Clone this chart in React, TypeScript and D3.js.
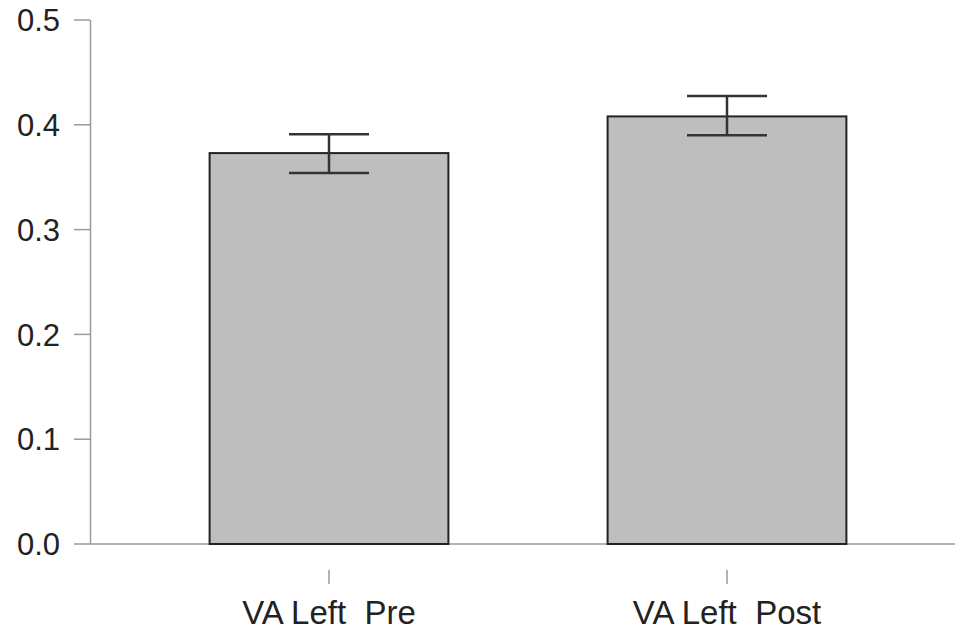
import React, { useEffect, useRef } from "react";
import * as d3 from "d3";

const categories = ["VA Left  Pre", "VA Left  Post"];
const means = [0.373, 0.408];
const lowers = [0.354, 0.39];
const uppers = [0.391, 0.4275];
const yTicks = [0, 0.1, 0.2, 0.3, 0.4, 0.5];

const App: React.FC = () => {
  const svgRef = useRef<SVGSVGElement | null>(null);

  useEffect(() => {
    if (!svgRef.current) return;
    const width = 955;
    const height = 632;
    const svg = d3.select(svgRef.current);
    svg.selectAll("*").remove();

    const x = d3
      .scaleBand<string>()
      .domain(categories)
      .range([130, 926])
      .paddingInner(0.4)
      .paddingOuter(0.2);
    const y = d3.scaleLinear().domain([0, 0.5]).range([544, 20]);

    const font = "'Liberation Sans', Arial, sans-serif";
    const axisColor = "#9a9a9a";
    const textColor = "#222";

    // y axis
    svg
      .append("line")
      .attr("x1", 90.5)
      .attr("x2", 90.5)
      .attr("y1", y(0.5))
      .attr("y2", y(0))
      .attr("stroke", axisColor)
      .attr("stroke-width", 1.5);

    const yt = svg.append("g");
    yTicks.forEach((t) => {
      yt.append("line")
        .attr("x1", 74)
        .attr("x2", 90)
        .attr("y1", y(t))
        .attr("y2", y(t))
        .attr("stroke", axisColor)
        .attr("stroke-width", 1.5);
      yt.append("text")
        .attr("x", 60)
        .attr("y", y(t))
        .attr("dy", "0.36em")
        .attr("text-anchor", "end")
        .attr("font-family", font)
        .attr("font-size", 31)
        .attr("fill", textColor)
        .text(d3.format(".1f")(t));
    });

    // x axis line
    svg
      .append("line")
      .attr("x1", 90)
      .attr("x2", width)
      .attr("y1", y(0))
      .attr("y2", y(0))
      .attr("stroke", axisColor)
      .attr("stroke-width", 1.5);

    // bars
    svg
      .append("g")
      .selectAll("rect")
      .data(categories)
      .join("rect")
      .attr("x", (d) => x(d) || 0)
      .attr("y", (_, i) => y(means[i]))
      .attr("width", x.bandwidth())
      .attr("height", (_, i) => y(0) - y(means[i]))
      .attr("fill", "#bebebe")
      .attr("stroke", "#222")
      .attr("stroke-width", 2);

    // error bars
    const eb = svg.append("g").attr("stroke", "#333").attr("stroke-width", 2.5);
    categories.forEach((c, i) => {
      const cx = (x(c) || 0) + x.bandwidth() / 2;
      eb.append("line")
        .attr("x1", cx)
        .attr("x2", cx)
        .attr("y1", y(uppers[i]))
        .attr("y2", y(lowers[i]));
      [uppers[i], lowers[i]].forEach((v) => {
        eb.append("line")
          .attr("x1", cx - 40)
          .attr("x2", cx + 40)
          .attr("y1", y(v))
          .attr("y2", y(v));
      });
    });

    // category ticks and labels
    const xt = svg.append("g");
    categories.forEach((c) => {
      const cx = (x(c) || 0) + x.bandwidth() / 2;
      xt.append("line")
        .attr("x1", cx)
        .attr("x2", cx)
        .attr("y1", 570)
        .attr("y2", 584)
        .attr("stroke", axisColor)
        .attr("stroke-width", 1.5);
      xt.append("text")
        .attr("x", cx)
        .attr("y", 624)
        .attr("text-anchor", "middle")
        .attr("font-family", font)
        .attr("font-size", 33)
        .attr("fill", textColor)
        .style("white-space", "pre")
        .text(c);
    });

    svg.attr("width", width).attr("height", height);
  }, []);

  return (
    <svg
      ref={svgRef}
      width={955}
      height={632}
      style={{ position: "absolute", left: 0, top: 0, background: "#fff" }}
    ></svg>
  );
};

export default App;
